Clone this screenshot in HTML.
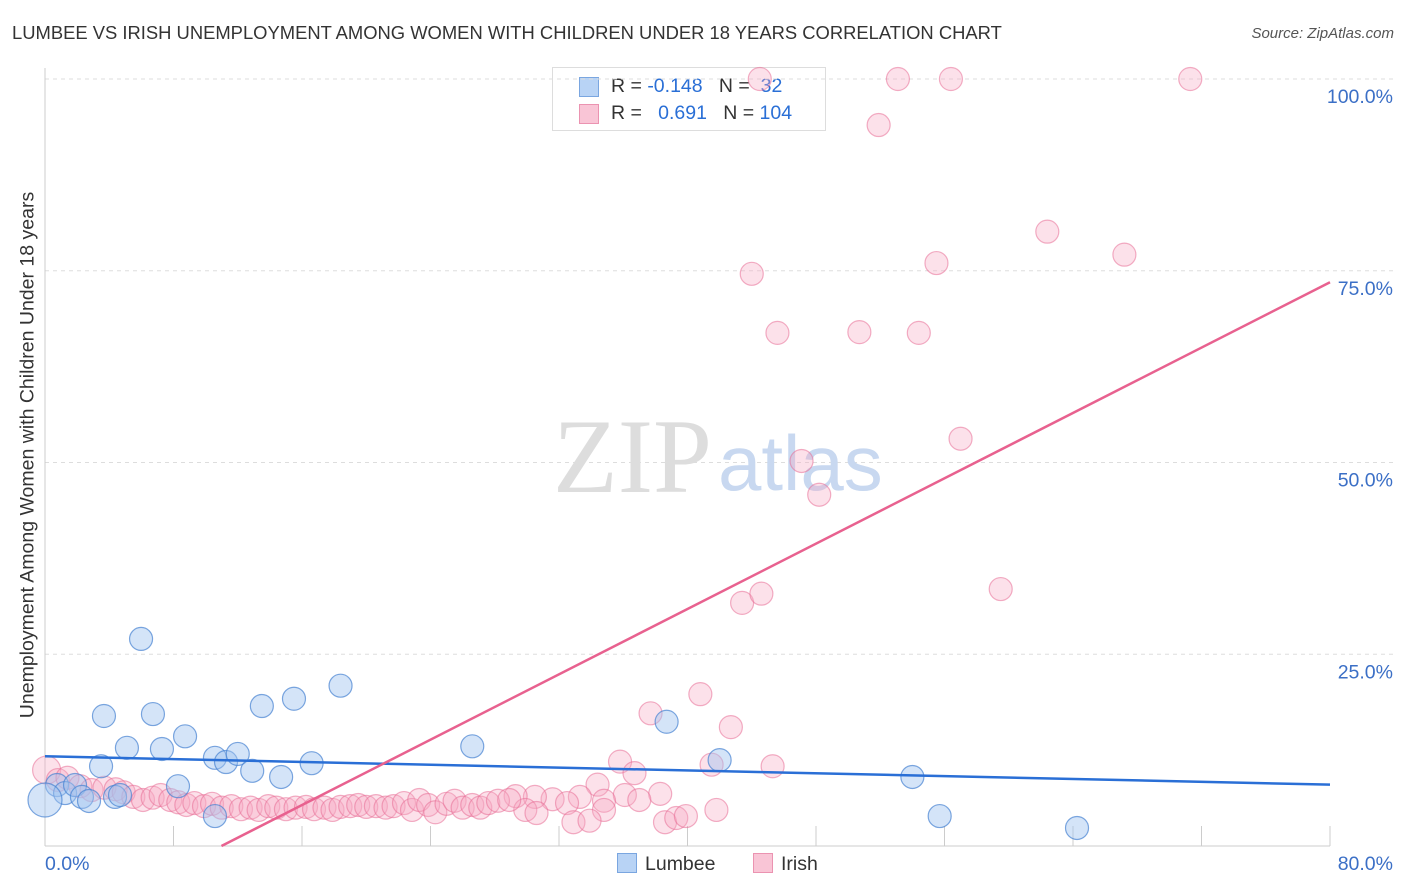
<!DOCTYPE html>
<html><head><meta charset="utf-8">
<style>
body{margin:0;background:#fff;font-family:"Liberation Sans",sans-serif;}
#wrap{position:relative;width:1406px;height:892px;overflow:hidden;}
.t{position:absolute;white-space:nowrap;}
</style></head>
<body>
<div id="wrap">
<div class="t" style="left:12px;top:22px;font-size:18.4px;color:#333;">LUMBEE VS IRISH UNEMPLOYMENT AMONG WOMEN WITH CHILDREN UNDER 18 YEARS CORRELATION CHART</div>
<div class="t" style="right:12px;top:25px;font-size:15px;color:#555;font-style:italic;">Source: ZipAtlas.com</div>
<div style="position:absolute;left:552px;top:67px;width:272px;height:62px;border:1px solid #ddd;background:#fff;font-size:19.5px;color:#333;">
 <div style="position:absolute;left:26px;top:9px;width:18px;height:18px;background:#b8d3f5;border:1px solid #7aa6e0;"></div>
 <div class="t" style="left:58px;top:7px;">R = <span style="color:#2a6fd6">-0.148</span>&nbsp;&nbsp;&nbsp;N = &nbsp;<span style="color:#2a6fd6">32</span></div>
 <div style="position:absolute;left:26px;top:36px;width:18px;height:18px;background:#f9c5d6;border:1px solid #eb93b1;"></div>
 <div class="t" style="left:58px;top:34px;">R = &nbsp;&nbsp;<span style="color:#2a6fd6">0.691</span>&nbsp;&nbsp;&nbsp;N = <span style="color:#2a6fd6">104</span></div>
</div>
<svg id="svg" width="1406" height="892" style="position:absolute;left:0;top:0"></svg>
<div class="t" style="left:28px;top:455px;font-size:19.5px;color:#333;transform:translate(-50%,-50%) rotate(-90deg);">Unemployment Among Women with Children Under 18 years</div>
</div>
<script>
const xTickLabels=["0.0%","80.0%"];
const yTickValues=[25,50,75,100];
const yTickLabels=["25.0%","50.0%","75.0%","100.0%"];
const lumbeeX=[0.75,1.25,1.87,2.3,2.74,3.67,3.49,4.36,4.67,5.1,5.98,6.72,7.28,8.28,8.72,10.58,10.58,11.27,12.0,12.9,13.5,14.7,15.5,16.6,18.4,26.6,38.7,42.0,54.0,55.7,64.25,0.0];
const lumbeeY=[7.95,6.9,7.95,6.4,5.87,16.95,10.4,6.4,6.65,12.8,27.0,17.2,12.65,7.8,14.3,11.5,3.9,10.95,12.0,9.8,18.25,9.0,19.2,10.8,20.9,13.0,16.2,11.2,9.0,3.9,2.35,6.0];
const irishX=[44.5,53.1,56.4,71.3,51.9,62.4,55.5,67.2,44.0,45.6,50.7,54.4,57.0,47.1,48.2,59.5,43.4,44.6,40.8,37.7,42.7,35.8,36.7,45.3,41.5,38.3,34.4,36.1,33.3,31.6,30.5,29.3,37.0,34.8,32.5,34.8,29.9,30.6,32.9,33.9,38.6,39.3,39.9,41.8,
0.1,0.8,1.4,2.2,2.9,3.7,4.4,4.9,5.5,6.1,6.7,7.2,7.8,8.3,8.8,9.3,9.9,10.4,11.0,11.6,12.2,12.8,13.3,13.9,14.4,15.0,15.6,16.25,16.75,17.4,17.9,18.4,19.0,19.5,20.0,20.6,21.2,21.7,22.35,22.85,23.3,23.85,24.3,25.0,25.5,26.0,26.6,27.1,27.6,28.2,28.9];
const irishY=[100,100,100,100,94.0,80.1,76.0,77.1,74.6,66.9,67.0,66.9,53.1,50.2,45.8,33.5,31.7,32.9,19.8,17.3,15.5,11.0,9.5,10.4,10.6,6.8,8.0,6.65,6.4,6.1,6.4,6.5,6.0,5.9,5.6,4.7,4.7,4.3,3.1,3.3,3.1,3.65,3.9,4.7,
9.9,8.6,8.9,7.8,7.3,7.6,7.4,7.0,6.4,6.0,6.3,6.65,6.0,5.7,5.35,5.6,5.2,5.5,5.0,5.2,4.8,5.0,4.7,5.2,5.0,4.8,5.0,5.1,4.8,5.0,4.7,5.1,5.2,5.35,5.1,5.2,5.0,5.2,5.6,4.7,6.0,5.35,4.4,5.5,5.9,5.0,5.35,5.0,5.6,5.9,6.0];
const lumbeeTrend=[11.7,8.0];
const irishTrend=[-11.7,73.5];
const X0=45,X1=1330,Y0=846,Y100=79;
const sx=v=>X0+(v/80)*(X1-X0);
const sy=v=>Y0-(v/100)*(Y0-Y100);
const svg=document.getElementById('svg');
const NS='http://www.w3.org/2000/svg';
function mk(tag,attrs,name){const e=document.createElementNS(NS,tag);for(const k in attrs)e.setAttribute(k,attrs[k]);


svg.appendChild(e);return e;}
yTickValues.forEach((v,i)=>{
 mk('line',{x1:X0,x2:1395,y1:sy(v),y2:sy(v),stroke:'#ddd','stroke-dasharray':'4,4'},'y-gridline');
 const t=mk('text',{x:1393,y:sy(v)+24,'text-anchor':'end','font-size':19.5,fill:'#3b6fc6','font-family':'Liberation Sans'},'y-tick-label');t.textContent=yTickLabels[i];
});
mk('line',{x1:X0,x2:X0,y1:68,y2:Y0,stroke:'#ccc'},'y-axis');
mk('line',{x1:X0,x2:X1,y1:Y0,y2:Y0,stroke:'#ccc'},'x-axis');
for(let i=1;i<=10;i++){mk('line',{x1:sx(i*8),x2:sx(i*8),y1:Y0-20,y2:Y0,stroke:'#ccc'},'x-tick');}
let t=mk('text',{x:45,y:870,'font-size':19.5,fill:'#3b6fc6','font-family':'Liberation Sans'},'x-tick-label');t.textContent=xTickLabels[0];
t=mk('text',{x:1393,y:870,'text-anchor':'end','font-size':19.5,fill:'#3b6fc6','font-family':'Liberation Sans'},'x-tick-label');t.textContent=xTickLabels[1];
t=mk('text',{x:553,y:492,'font-size':106,fill:'#ddd','font-family':'Liberation Serif'},'watermark-zip');t.textContent='ZIP';
t=mk('text',{x:718,y:490,'font-size':78,fill:'#c8d8f0','font-family':'Liberation Sans'},'watermark-atlas');t.textContent='atlas';
irishX.forEach((x,i)=>{mk('circle',{cx:sx(x),cy:sy(irishY[i]),r:(i==44?14:11.5),fill:'rgba(247,168,196,0.35)',stroke:'rgba(232,110,150,0.55)','stroke-width':1.2},'irish-point');});
lumbeeX.forEach((x,i)=>{mk('circle',{cx:sx(x),cy:sy(lumbeeY[i]),r:(i==31?17:11.5),fill:'rgba(160,195,240,0.45)',stroke:'rgba(70,130,210,0.7)','stroke-width':1.2},'lumbee-point');});
mk('line',{x1:sx(0),y1:sy(lumbeeTrend[0]),x2:sx(80),y2:sy(lumbeeTrend[1]),stroke:'#2a6fd6','stroke-width':2.5},'lumbee-trendline');
const xs0=-irishTrend[0]/((irishTrend[1]-irishTrend[0])/80);
mk('line',{x1:sx(xs0),y1:sy(0),x2:sx(80),y2:sy(irishTrend[1]),stroke:'#e8618f','stroke-width':2.5},'irish-trendline');
</script>
<div style="position:absolute;left:617px;top:853px;font-size:19.5px;color:#333;">
 <span style="display:inline-block;width:18px;height:18px;background:#b8d3f5;border:1px solid #7aa6e0;vertical-align:-3px;margin-right:8px"></span>Lumbee</div>
<div style="position:absolute;left:753px;top:853px;font-size:19.5px;color:#333;">
 <span style="display:inline-block;width:18px;height:18px;background:#f9c5d6;border:1px solid #eb93b1;vertical-align:-3px;margin-right:8px"></span>Irish</div>
</body></html>
